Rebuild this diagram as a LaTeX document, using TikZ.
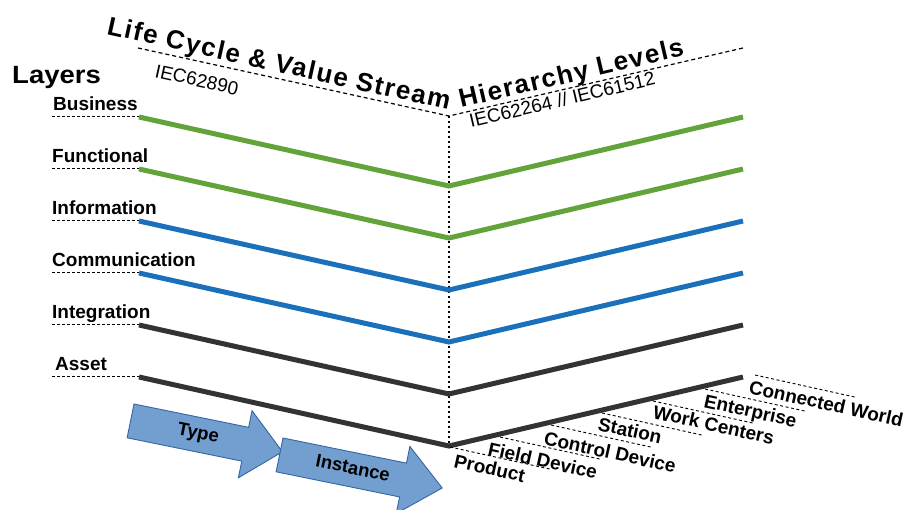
\documentclass[tikz,border=0pt]{standalone}
\usepackage{fontspec}
\setmainfont{Liberation Sans}
\usetikzlibrary{calc}
\definecolor{lgreen}{RGB}{98,163,58}
\definecolor{lblue}{RGB}{27,112,187}
\definecolor{ldark}{RGB}{51,51,51}
\definecolor{afill}{RGB}{114,159,207}
\definecolor{aedge}{RGB}{52,101,164}
\begin{document}
\begin{tikzpicture}[x=1pt,y=-1pt,
  layerline/.style={line width=5pt,line join=miter},
  stub/.style={dash pattern=on 3pt off 2pt,line width=1pt},
  vdots/.style={dash pattern=on 2.5pt off 2.5pt,line width=1.4pt},
  topdash/.style={dash pattern=on 4pt off 3pt,line width=1.2pt},
  lvldash/.style={dash pattern=on 3pt off 2.5pt,line width=0.9pt},
  lbl/.style={font=\bfseries\fontsize{19}{21}\selectfont,inner sep=0pt,anchor=base west},
  ttl/.style={font=\bfseries\fontsize{26}{29}\selectfont\addfontfeatures{LetterSpace=6},inner sep=0pt,anchor=base west},
  sub/.style={font=\fontsize{19}{21}\selectfont,inner sep=0pt,anchor=base west},
  arrowshape/.style={fill=afill,draw=aedge,line width=0.9pt,line join=miter},
  arrowtxt/.style={font=\bfseries\fontsize{18.5}{20}\selectfont,inner sep=0pt}]
\useasboundingbox (0,0) rectangle (905,510);

% top dashed V and vertical dotted line
\coordinate (tl) at (138,48);
\coordinate (tv) at (449,116);
\coordinate (tr) at (743,48);
\coordinate (bv) at (449,446);
\draw[topdash] (tl) -- (tv) -- (tr);
\draw[vdots] (tv) -- (bv);

% titles
\node[ttl,rotate=-12.5] (title1) at (106,34) {Life Cycle \& Value Stream};
\node[ttl,rotate=13.2] (title2) at (461,108) {Hierarchy Levels};
\node[sub,rotate=-12.5] (sub1) at (154,77) {IEC62890};
\node[sub,rotate=13.2] (sub2) at (471,128) {IEC62264 // IEC61512};

\node[font=\bfseries\fontsize{25}{28}\selectfont,inner sep=0pt,anchor=base west] (layers) at (12,84) {\scalebox{1.1}[1]{Layers}};

% layers
\foreach \name/\lab/\y/\col/\lx in {bus/Business/117/lgreen/53,fun/Functional/169/lgreen/52,inf/Information/221/lblue/52,com/Communication/273/lblue/52,int/Integration/325/ldark/52,ass/Asset/377/ldark/55}{
  \coordinate (\name s) at (52,\y);
  \coordinate (\name l) at (139,\y);
  \coordinate (\name v) at (449,\y+69);
  \coordinate (\name r) at (743,\y);
  \draw[stub] (\name s) -- (\name l);
  \draw[layerline,draw=\col] (\name l) -- (\name v) -- (\name r);
  \node[lbl] (\name lab) at (\lx,\y-6) {\lab};
}

% hierarchy levels
\foreach \name/\lab/\sx/\sy/\tx/\ty in {pro/Product/450/447/453/467,fie/Field Device/500/437/487/455,con/Control Device/551/425/543/444,sta/Station/602/413/597/430,wor/Work Centers/653/401/652/418,ent/Enterprise/705/389/703/407,cw/Connected World/755/375/748/393}{
  \coordinate (\name a) at (\sx,\sy);
  \coordinate (\name b) at ($(\sx,\sy)+(99.6,22)$);
  \draw[lvldash] (\name a) -- (\name b);
  \node[lbl,rotate=-12.5] (\name lab) at (\tx,\ty) {\lab};
}

% arrows
\begin{scope}[shift={(134,404)},rotate=-11.5]
  \draw[arrowshape] (0,0) -- (117,0) -- (117,-17) -- (155,17.25) -- (117,51.5) -- (117,34.5) -- (0,34.5) -- cycle;
\end{scope}
\node[arrowtxt,rotate=-11.5] (type) at (198,434) {Type};
\begin{scope}[shift={(283,438)},rotate=-11.5]
  \draw[arrowshape] (0,0) -- (126,0) -- (126,-17) -- (166,17.25) -- (126,51.5) -- (126,34.5) -- (0,34.5) -- cycle;
\end{scope}
\node[arrowtxt,rotate=-11.5] (inst) at (353,468) {Instance};
\end{tikzpicture}
\end{document}
